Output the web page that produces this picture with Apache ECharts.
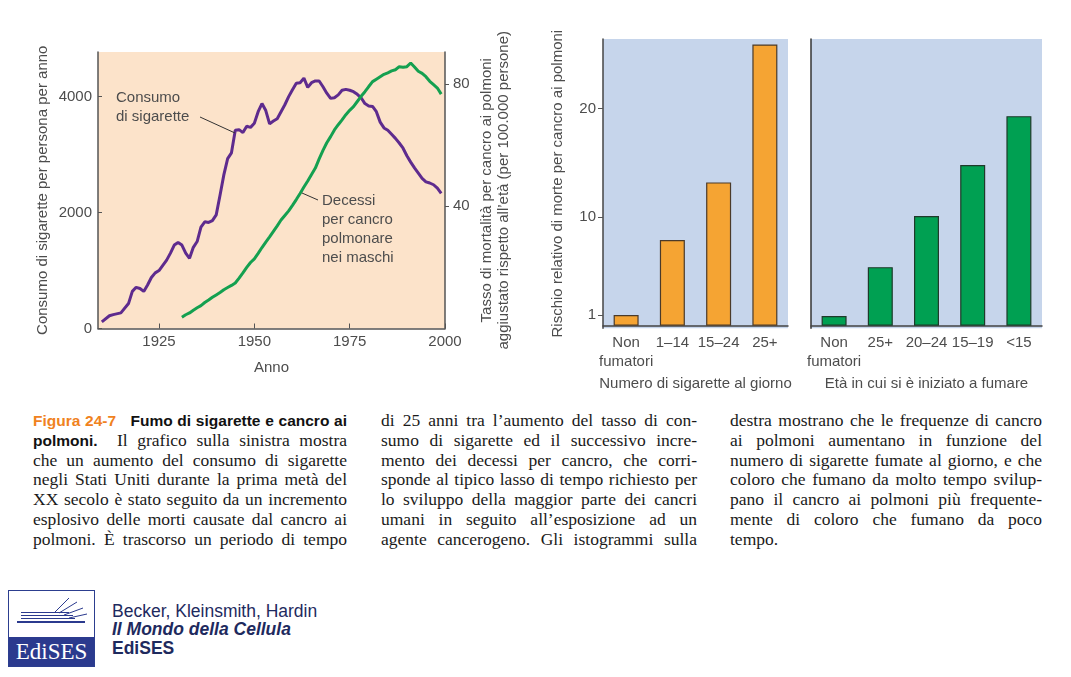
<!DOCTYPE html>
<html>
<head>
<meta charset="utf-8">
<script src="https://cdn.jsdelivr.net/npm/echarts@6/dist/echarts.min.js"></script>
<style>
  html, body { margin:0; padding:0; background:#fff; }
  body { width:1071px; height:677px; position:relative; overflow:hidden; }
  #chart { position:absolute; left:0; top:0; width:1071px; height:400px; }
  .col { position:absolute; top:411px; font-family:'Liberation Serif', 'DejaVu Serif', serif; font-size:17.5px; line-height:19.8px; color:#1a1a1a; }
  .col div { text-align:justify; text-align-last:justify; height:19.8px; }
  .col div.last { text-align-last:left; }
  .fig { font-family:'Liberation Sans Narrow','Liberation Sans',sans-serif; font-weight:bold; color:#F0821E; font-size:15.5px; }
  .bt { font-family:'Liberation Sans Narrow','Liberation Sans',sans-serif; font-weight:bold; color:#111; font-size:15.5px; }
  #logo { position:absolute; left:8px; top:590px; width:87px; height:77px; border:1px solid #2C3E8F; box-sizing:border-box; background:#fff; }
  #logo .band { position:absolute; left:0; right:0; bottom:0; height:29px; background:#2B3A8E; color:#fff; font-family:'Liberation Serif',serif; font-size:23px; text-align:center; line-height:29px; }
  #pub { position:absolute; left:112px; top:602px; font-family:'Liberation Sans',sans-serif; font-size:17.5px; line-height:18.4px; color:#1E2A5E; }
</style>
</head>
<body>
<div id="chart"></div>

<div class="col" style="left:33px; width:314px;">
  <div><span class="fig">Figura 24-7</span>&nbsp;&nbsp; <span class="bt">Fumo di sigarette e cancro ai</span></div>
  <div><span class="bt">polmoni.</span>&nbsp; Il grafico sulla sinistra mostra</div>
  <div>che un aumento del consumo di sigarette</div>
  <div>negli Stati Uniti durante la prima metà del</div>
  <div>XX secolo è stato seguito da un incremento</div>
  <div>esplosivo delle morti causate dal cancro ai</div>
  <div>polmoni. È trascorso un periodo di tempo</div>
</div>
<div class="col" style="left:381px; width:316px;">
  <div>di 25 anni tra l’aumento del tasso di con-</div>
  <div>sumo di sigarette ed il successivo incre-</div>
  <div>mento dei decessi per cancro, che corri-</div>
  <div>sponde al tipico lasso di tempo richiesto per</div>
  <div>lo sviluppo della maggior parte dei cancri</div>
  <div>umani in seguito all’esposizione ad un</div>
  <div>agente cancerogeno. Gli istogrammi sulla</div>
</div>
<div class="col" style="left:730px; width:312px;">
  <div>destra mostrano che le frequenze di cancro</div>
  <div>ai polmoni aumentano in funzione del</div>
  <div>numero di sigarette fumate al giorno, e che</div>
  <div>coloro che fumano da molto tempo svilup-</div>
  <div>pano il cancro ai polmoni più frequente-</div>
  <div>mente di coloro che fumano da poco</div>
  <div class="last">tempo.</div>
</div>

<div id="logo">
  <svg width="85" height="48" style="position:absolute;left:0;top:0">
    <g stroke="#2B3A8E" fill="none">
      <line x1="8" y1="31" x2="76" y2="31" stroke-width="2.2"/>
      <line x1="12" y1="27.5" x2="66" y2="27.5" stroke-width="1"/>
      <line x1="12" y1="24.5" x2="64" y2="24.5" stroke-width="1"/>
      <line x1="12" y1="21.5" x2="60" y2="21.5" stroke-width="1"/>
      <line x1="46" y1="21" x2="60" y2="7" stroke-width="1"/>
      <line x1="50" y1="22" x2="68" y2="11" stroke-width="1"/>
      <line x1="55" y1="24" x2="74" y2="17" stroke-width="1"/>
      <line x1="60" y1="27" x2="78" y2="23" stroke-width="1"/>
    </g>
  </svg>
  <div class="band">EdiSES</div>
</div>
<div id="pub">
  <div>Becker, Kleinsmith, Hardin</div>
  <div style="font-weight:bold;font-style:italic;">Il Mondo della Cellula</div>
  <div style="font-weight:bold;">EdiSES</div>
</div>

<script>
// ---------- DATA ----------
const cigYears = [1910,1912,1913,1915,1917,1918,1919,1920,1921,1922,1923,1924,1925,1927,1928,1929,1930,1931,1932,1933,1934,1935,1936,1937,1938,1939,1940,1941,1942,1943,1944,1945,1946,1947,1948,1949,1950,1951,1952,1953,1954,1955,1956,1957,1958,1959,1960,1961,1962,1963,1964,1965,1966,1967,1968,1969,1970,1971,1972,1973,1974,1975,1976,1977,1978,1979,1980,1981,1982,1983,1984,1985,1986,1987,1988,1989,1990,1991,1992,1993,1994,1995,1996,1997,1998,1999];
const cigValues = [115,220,240,270,430,640,710,690,640,750,880,960,1000,1180,1300,1440,1485,1440,1300,1210,1400,1500,1750,1840,1830,1860,1960,2300,2650,2930,3030,3420,3430,3380,3490,3470,3540,3740,3880,3760,3530,3580,3620,3740,3860,4000,4120,4230,4240,4320,4160,4240,4270,4270,4170,4060,3970,3980,4030,4110,4125,4110,4085,4040,3980,3880,3840,3830,3740,3560,3460,3420,3350,3280,3200,3110,2980,2870,2770,2680,2590,2530,2510,2480,2420,2330];

const deathYears = [1931,1932,1933,1934,1935,1936,1937,1938,1939,1940,1941,1942,1943,1944,1945,1946,1947,1948,1949,1950,1951,1952,1953,1954,1955,1956,1957,1958,1959,1960,1961,1962,1963,1964,1965,1966,1967,1968,1969,1970,1971,1972,1973,1974,1975,1976,1977,1978,1979,1980,1981,1982,1983,1984,1985,1986,1987,1988,1989,1990,1991,1992,1993,1994,1995,1996,1997,1998,1999];
const deathValues = [3.7,4.5,5.1,6,6.8,7.5,8.5,9.3,10.2,11,11.8,12.7,13.4,14.1,14.9,16.5,18.2,20,21.6,22.8,24.6,26.5,28.3,30,31.8,33.6,35.5,37,38.5,40.3,42.2,44.2,46.3,48.3,50.4,52.5,55.5,58.3,60.8,62.8,65,66.7,68.3,70,71.4,72.6,74.3,76,77.5,79.2,80.8,81.6,82.4,83.2,83.7,84.3,84.7,85.7,85.5,85.7,86.9,85.6,84.2,83.5,82.4,80.9,79.8,78.7,76.7];

const yearTicks = [1925,1950,1975,2000];
const cigTicks = [0,2000,4000];
const deathTicks = [40,80];

const perDayCats = ['Non\nfumatori','1–14','15–24','25+'];
const perDayRisk = [1,7.9,13.2,25.9];
const ageCats = ['Non\nfumatori','25+','20–24','15–19','<15'];
const ageRisk = [0.9,5.4,10.1,14.8,19.3];
const riskTicks = [1,10,20];

// ---------- CHART ----------
const TXT = '#4d4d4d';
const FONT = "'Liberation Sans', Arial, sans-serif";
const axisLineDark = { show:true, lineStyle:{ color:'#555', width:1.5 } };
const plain = v => String(v);

const chart = echarts.init(document.getElementById('chart'), null, { renderer:'canvas' });

const cigData = cigYears.map((y,i)=>[y, cigValues[i]]);
const deathData = deathYears.map((y,i)=>[y, deathValues[i]]);

const option = {
  animation:false,
  textStyle:{ fontFamily:FONT },
  grid:[
    { left:98, top:52, width:347, height:276.5, show:true, backgroundColor:'#FCE3CA', borderWidth:0 },
    { left:603, top:39, width:185, height:289.3, show:true, backgroundColor:'#C6D5EB', borderWidth:0 },
    { left:811, top:39, width:231, height:289.3, show:true, backgroundColor:'#C6D5EB', borderWidth:0 }
  ],
  xAxis:[
    { gridIndex:0, type:'value', min:1909, max:2000,
      axisLine:axisLineDark,
      axisTick:{ show:true, inside:true, length:5, customValues:yearTicks, lineStyle:{ color:'#555' } },
      axisLabel:{ customValues:yearTicks, formatter:plain, color:TXT, fontSize:15, margin:6, fontFamily:FONT },
      splitLine:{ show:false },
      name:'Anno', nameLocation:'middle', nameGap:32,
      nameTextStyle:{ color:TXT, fontSize:15, fontFamily:FONT } },
    { gridIndex:1, type:'category', data:perDayCats,
      axisLine:{ show:true, lineStyle:{ color:'#444', width:1.5 } },
      axisTick:{ show:false },
      axisLabel:{ color:TXT, fontSize:15, lineHeight:19, margin:5, interval:0, fontFamily:FONT },
      name:'Numero di sigarette al giorno', nameLocation:'middle', nameGap:42,
      nameTextStyle:{ color:TXT, fontSize:15, fontFamily:FONT } },
    { gridIndex:2, type:'category', data:ageCats,
      axisLine:{ show:true, lineStyle:{ color:'#444', width:1.5 } },
      axisTick:{ show:false },
      axisLabel:{ color:TXT, fontSize:15, lineHeight:19, margin:5, interval:0, fontFamily:FONT },
      name:'Età in cui si è iniziato a fumare', nameLocation:'middle', nameGap:42,
      nameTextStyle:{ color:TXT, fontSize:15, fontFamily:FONT } }
  ],
  yAxis:[
    { gridIndex:0, type:'value', min:0, max:4770, position:'left',
      axisLine:axisLineDark,
      axisTick:{ show:true, inside:true, length:4, customValues:cigTicks, lineStyle:{ color:'#555' } },
      axisLabel:{ customValues:cigTicks, formatter:plain, color:TXT, fontSize:15, margin:6, fontFamily:FONT },
      splitLine:{ show:false },
      name:'Consumo di sigarette per persona per anno', nameLocation:'middle', nameRotate:90, nameGap:48,
      nameTextStyle:{ color:TXT, fontSize:15, fontFamily:FONT } },
    { gridIndex:0, type:'value', min:0, max:90.5, position:'right',
      axisLine:axisLineDark,
      axisTick:{ show:true, inside:false, length:4, customValues:deathTicks, lineStyle:{ color:'#555' } },
      axisLabel:{ customValues:deathTicks, formatter:plain, color:TXT, fontSize:15, margin:8, fontFamily:FONT },
      splitLine:{ show:false },
      name:'Tasso di mortalità per cancro ai polmoni\naggiustato rispetto all’età (per 100.000 persone)',
      nameLocation:'middle', nameRotate:90, nameGap:34,
      nameTextStyle:{ color:TXT, fontSize:15, lineHeight:16.5, fontFamily:FONT } },
    { gridIndex:1, type:'value', min:-0.23, max:26.4,
      axisLine:{ show:true, lineStyle:{ color:'#444', width:1.5 } },
      axisTick:{ show:true, inside:false, length:5, customValues:riskTicks, lineStyle:{ color:'#555' } },
      axisLabel:{ customValues:riskTicks, formatter:plain, color:TXT, fontSize:15, margin:7, fontFamily:FONT },
      splitLine:{ show:false },
      name:'Rischio relativo di morte per cancro ai polmoni', nameLocation:'middle', nameRotate:90, nameGap:38,
      nameTextStyle:{ color:TXT, fontSize:15, fontFamily:FONT } },
    { gridIndex:2, type:'value', min:-0.23, max:26.4,
      axisLine:{ show:true, lineStyle:{ color:'#333', width:1.5 } },
      axisTick:{ show:false }, axisLabel:{ show:false }, splitLine:{ show:false } }
  ],
  series:[
    { type:'line', xAxisIndex:0, yAxisIndex:0, data:cigData, symbol:'none',
      lineStyle:{ color:'#5E2B8E', width:3 } },
    { type:'line', xAxisIndex:0, yAxisIndex:1, data:deathData, symbol:'none',
      lineStyle:{ color:'#14A050', width:3 } },
    { type:'bar', xAxisIndex:1, yAxisIndex:2, data:perDayRisk, barWidth:25,
      itemStyle:{ color:'#F5A433', borderColor:'#4a3a2a', borderWidth:1.2 } },
    { type:'bar', xAxisIndex:2, yAxisIndex:3, data:ageRisk, barWidth:25,
      itemStyle:{ color:'#00A052', borderColor:'#1f3a2a', borderWidth:1.2 } }
  ],
  graphic:[
    { type:'text', left:116, top:89, z:100,
      style:{ text:'Consumo\ndi sigarette', fill:TXT, font:"15px 'Liberation Sans', Arial, sans-serif", lineHeight:18.5 } },
    { type:'line', z:100, shape:{ x1:200, y1:117, x2:235, y2:133 }, style:{ stroke:'#333', lineWidth:1 } },
    { type:'text', left:322, top:191.5, z:100,
      style:{ text:'Decessi\nper cancro\npolmonare\nnei maschi', fill:TXT, font:"15px 'Liberation Sans', Arial, sans-serif", lineHeight:19 } },
    { type:'line', z:100, shape:{ x1:302, y1:193, x2:318, y2:200 }, style:{ stroke:'#333', lineWidth:1 } }
  ]
};
chart.setOption(option);
</script>
</body>
</html>
